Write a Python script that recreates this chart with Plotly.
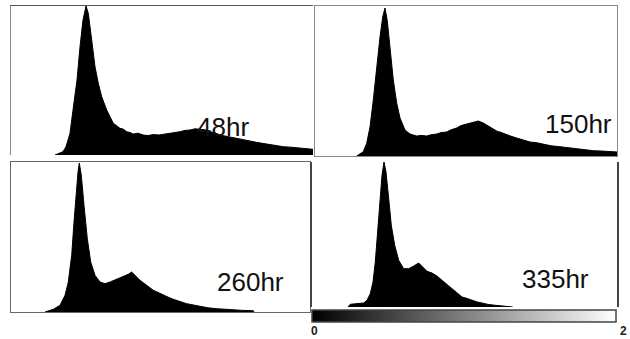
import plotly.graph_objects as go

# ---- data (DNA content channel, arbitrary units; counts, arbitrary units) ----
labels = ["48hr", "150hr", "260hr", "335hr"]
scale_ticks = ["0", "2"]

x_48 = [44, 49, 52, 55, 59, 62, 66, 69, 72, 75, 77.3, 80.7, 84, 87.3, 90.7, 95.7, 102.3, 106, 109, 112,
        115.7, 119, 122.3, 127, 132.3, 137, 142.3, 148, 155.7, 162, 169, 174, 179, 184, 189, 194, 199,
        204, 209, 215, 222.3, 230, 239, 247, 255.7, 264, 272.3, 280, 289, 295, 302]
y_48 = [0, 2, 3.3, 8.3, 21.7, 45, 75, 108.3, 135, 149, 141.7, 115, 88.3, 71.7, 58.3, 45, 31.7, 29, 26.7, 26,
        23.3, 22.5, 21, 21.8, 20, 19.4, 20.5, 20, 21, 22.4, 23.3, 24.6, 25, 26.2, 25.5, 25.2, 23.3,
        22.2, 20, 18.8, 16.7, 15.2, 13.3, 12.4, 11, 9.6, 8.3, 7.8, 6.7, 6.2, 5.7]

x_150 = [41.7, 48.3, 51.7, 55, 58.3, 61.7, 65, 67.7, 70, 72.3, 75, 78.3, 81.7, 85, 90, 95, 101.7, 106,
         111.7, 116, 121.7, 126, 131.7, 136, 141.7, 146, 151.7, 158.3, 163.3, 168.3, 175, 181.7, 186,
         191.7, 196, 201.7, 208, 215, 222, 228.3, 236, 245, 253, 261.7, 270, 278.3, 286, 295, 302]
y_150 = [0, 4.3, 12.7, 29, 56, 89, 119, 139, 148, 135, 109, 76, 53, 38, 26, 22, 20, 20.6,
         20, 21.2, 22, 23.4, 24, 26.2, 28, 30.4, 32, 34, 35, 33, 29, 25, 23.6,
         21, 19.8, 18, 16.4, 14, 13.2, 12, 10.2, 9.3, 8.2, 7, 6.2, 5.3, 5.0, 4.3, 4]

x_260 = [34, 42.3, 49, 54, 57.3, 60.7, 63, 65, 67, 68.3, 70.3, 73, 76.3, 79.7, 84, 89, 94, 99, 105.7,
         112.3, 117.3, 120.7, 124, 129, 135.7, 142.3, 147, 152.3, 157, 162.3, 168, 175.7, 182, 189, 197,
         205.7, 214, 222.3, 232, 242.3, 243]
y_260 = [0, 2.7, 6.7, 16.7, 30, 56.7, 90, 120, 140, 149, 136.7, 106.7, 73.3, 50, 36.7, 30, 28.3, 30, 32.7,
         35, 37.7, 40, 36.7, 31.7, 26.7, 21.7, 19.6, 16.7, 14.9, 12.7, 10.6, 8.3, 7.1, 5.7, 4.2,
         3.3, 2.6, 2, 1.6, 1.3, 0]

x_335 = [36, 38.3, 51.7, 55, 58.3, 61, 63.3, 65.7, 68, 70, 72, 74, 76.7, 79.3, 82.7, 86.7, 91.7, 96.7,
         101.7, 106.7, 110.7, 115, 120, 125, 130, 136.7, 143.3, 150, 155, 160, 165, 170, 176, 183.3, 191,
         200, 200.7]
y_335 = [0, 2.7, 4, 6.7, 13.3, 25, 45, 78.3, 108.3, 131.7, 145, 135, 108.3, 81.7, 61.7, 46.7, 38.3, 38.3,
         41, 44, 40, 35.7, 34, 31, 26.7, 21, 15, 10, 8.6, 6.7, 5.1, 4, 2.6, 1.7, 1.1,
         0.7, 0]

panels = [
    (x_48, y_48, "x", "y"),
    (x_150, y_150, "x2", "y2"),
    (x_260, y_260, "x3", "y3"),
    (x_335, y_335, "x4", "y4"),
]

fig = go.Figure()
for xs, ys, xa, ya in panels:
    fig.add_trace(go.Scatter(x=xs, y=ys, xaxis=xa, yaxis=ya, mode="lines",
                             fill="tozeroy", fillcolor="black",
                             line=dict(color="black", width=1),
                             showlegend=False, hoverinfo="skip"))

H = 339.0
W = 630.0

# colour scale bar 0..2
fig.add_trace(go.Scatter(x=[None], y=[None], xaxis="x4", yaxis="y4", mode="markers",
                         showlegend=False, hoverinfo="skip",
                         marker=dict(color=[0], cmin=0, cmax=2,
                                     colorscale=[[0, "black"], [1, "white"]],
                                     showscale=True,
                                     colorbar=dict(orientation="h", x=312 / W, xanchor="left",
                                                   y=(H - 310) / H, yanchor="top",
                                                   lenmode="pixels", len=304, thickness=12,
                                                   xpad=0, ypad=0,
                                                   outlinecolor="#444", outlinewidth=1.5,
                                                   showticklabels=False, ticks=""))))

def dom(a, b):
    return [a / W, b / W]
def vdom(top, bottom):
    return [(H - bottom) / H, (H - top) / H]

common = dict(showgrid=False, zeroline=False, showticklabels=False, ticks="")

fig.update_layout(
    width=630, height=339,
    margin=dict(l=0, r=0, t=0, b=0, autoexpand=False),
    paper_bgcolor="white", plot_bgcolor="white",
    xaxis=dict(domain=dom(11, 313), range=[0, 302], anchor="y", side="top",
               showline=True, linecolor="#555", linewidth=1, **common),
    yaxis=dict(domain=vdom(6, 155), range=[0, 149], anchor="x",
               showline=True, linecolor="#888", linewidth=1, **common),
    xaxis2=dict(domain=dom(315, 617), range=[0, 302], anchor="y2",
                showline=True, mirror=True, linecolor="#888", linewidth=1, **common),
    yaxis2=dict(domain=vdom(6, 156), range=[0, 150], anchor="x2",
                showline=True, mirror=True, linecolor="#888", linewidth=1, **common),
    xaxis3=dict(domain=dom(11, 310), range=[0, 299], anchor="y3",
                showline=True, mirror=True, linecolor="#666", linewidth=1, **common),
    yaxis3=dict(domain=vdom(162, 312), range=[0, 150], anchor="x3",
                showline=True, mirror=True, linecolor="#666", linewidth=1, **common),
    xaxis4=dict(domain=dom(312, 617), range=[0, 305], anchor="y4",
                showline=False, **common),
    yaxis4=dict(domain=vdom(162, 307), range=[0, 145], anchor="x4",
                showline=True, mirror=True, linecolor="#444", linewidth=2, **common),
)

label_pos = [(223, 125), (578, 122), (251, 280), (555, 277)]
for txt, (px, py) in zip(labels, label_pos):
    fig.add_annotation(text=txt, xref="paper", yref="paper", x=px / W, y=(H - py - 2) / H,
                       xanchor="center", yanchor="middle", showarrow=False,
                       font=dict(family="Liberation Sans", size=26, color="#111"))

for txt, px in zip(scale_ticks, [314, 623]):
    fig.add_annotation(text=txt, xref="paper", yref="paper", x=px / W, y=(H - 331) / H,
                       xanchor="center", yanchor="middle", showarrow=False,
                       font=dict(family="Liberation Sans", size=12, color="#222", weight="bold"))

fig.write_html("out.html", config={"displayModeBar": False},
               post_script="document.body.style.margin='0';")
